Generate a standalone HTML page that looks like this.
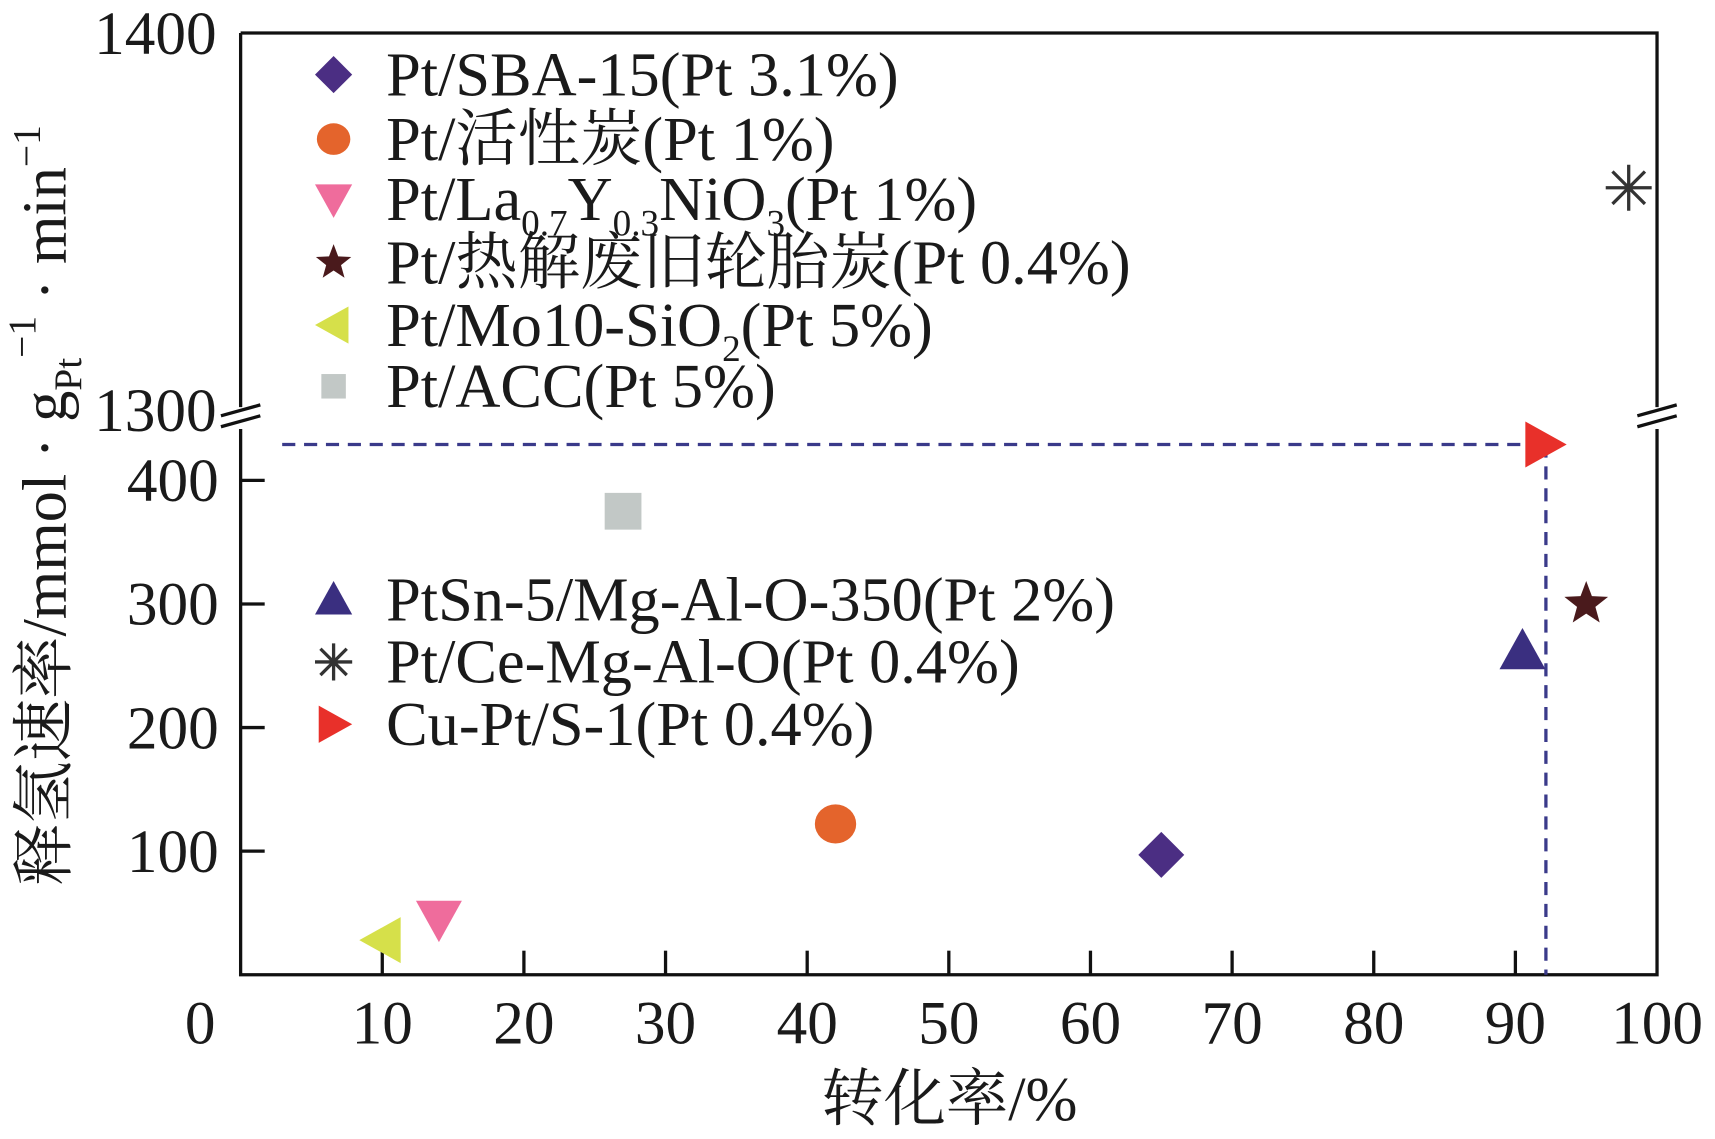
<!DOCTYPE html>
<html><head><meta charset="utf-8"><style>
html,body{margin:0;padding:0;background:#fff}
svg{display:block}
text{font-family:"Liberation Serif","Noto Serif CJK SC",serif;fill:#1a1a1a}
</style></head><body>
<svg id="chart" width="1715" height="1139" viewBox="0 0 1568 1041" xmlns="http://www.w3.org/2000/svg">
<g id="axes"></g>
<g id="marks"></g>
<g id="legend"></g>
<text x="868" y="1024" font-size="57" text-anchor="middle">转化率/%</text>
<text transform="translate(60,462) rotate(-90)" font-size="57" text-anchor="middle">释氢速率/mmol · g<tspan font-size="36" dy="14">Pt</tspan><tspan font-size="36" dy="-42">−1</tspan><tspan dy="28"> · min</tspan><tspan font-size="36" dy="-24">−1</tspan></text>
</svg>
<script>
const xTicks=[0,10,20,30,40,50,60,70,80,90,100];
const yLowTicks=[100,200,300,400];
const yHighTicks=[1300,1400];
const names=["Pt/SBA-15(Pt 3.1%)","Pt/活性炭(Pt 1%)","Pt/La0.7Y0.3NiO3(Pt 1%)","Pt/热解废旧轮胎炭(Pt 0.4%)","Pt/Mo10-SiO2(Pt 5%)","Pt/ACC(Pt 5%)","PtSn-5/Mg-Al-O-350(Pt 2%)","Pt/Ce-Mg-Al-O(Pt 0.4%)","Cu-Pt/S-1(Pt 0.4%)"];
const conversion=[65,42,14,95,10,27,90.5,98,92];
const rate=[97,122,45,300,28,375,262,1359,429];
const shapes=["diamond","circle","down","star","left","square","up","asterisk","right"];
const colors=["#4b2e83","#e4642c","#ef6c9c","#4a1a1c","#d6e04a","#c2c8c6","#3a2f80","#333333","#e8302a"];
const NS="http://www.w3.org/2000/svg";
const L=220,R=1515,B=891,T=30,BRK=378;
function xs(v){return L+(R-L)*v/100;}
function ys(v){return v<=1000? B-v*1.13 : 375-(v-1300)*3.45;}
function mk(tag,attrs,parent){const e=document.createElementNS(NS,tag);for(const k in attrs)e.setAttribute(k,attrs[k]);parent.appendChild(e);return e;}
const ax=document.getElementById('axes');
let f=mk('path',{d:`M${L} ${T}H${R}V${BRK-6}M${R} ${BRK+14}V${B}H${L}V${BRK+14}M${L} ${BRK-6}V${T}`,fill:'none',stroke:'#111','stroke-width':3},ax);

[L,R].forEach(x=>{const g=mk('path',{d:`M${x-18} ${BRK+2}L${x+18} ${BRK-8}M${x-18} ${BRK+12}L${x+18} ${BRK+2}`,stroke:'#111','stroke-width':3,fill:'none'},ax);
});
xTicks.forEach(v=>{const x=xs(v);
if(v>0&&v<100){const t=mk('line',{x1:x,x2:x,y1:B,y2:B-22,stroke:'#111','stroke-width':3},ax);}
const tx=mk('text',{x:v===0?183:x,y:954,'font-size':56,'text-anchor':'middle'},ax);tx.textContent=v;
});
yLowTicks.forEach(v=>{const y=ys(v);
const t=mk('line',{x1:L,x2:L+22,y1:y,y2:y,stroke:'#111','stroke-width':3},ax);
const tx=mk('text',{x:200,y:y+19,'font-size':56,'text-anchor':'end'},ax);tx.textContent=v;
});
yHighTicks.forEach(v=>{const tx=mk('text',{x:198,y:ys(v)+19,'font-size':56,'text-anchor':'end'},ax);tx.textContent=v;
});
const gx=xs(conversion[8])+2,gy=ys(rate[8]);
const dl=mk('path',{d:`M258 ${gy}H${gx-10}M${gx} ${gy}V${B}`,stroke:'#3a3a8a','stroke-width':3,'stroke-dasharray':'12 8',fill:'none'},ax);

function shape(s,x,y,c,r,parent){
let e;
if(s==='diamond')e=mk('path',{d:`M${x} ${y-r}L${x+r} ${y}L${x} ${y+r}L${x-r} ${y}Z`,fill:c},parent);
else if(s==='circle')e=mk('ellipse',{cx:x,cy:y,rx:r*0.9,ry:r*0.85,fill:c},parent);
else if(s==='square')e=mk('rect',{x:x-r*0.8,y:y-r*0.8,width:r*1.6,height:r*1.6,fill:c},parent);
else if(s==='down')e=mk('path',{d:`M${x-r} ${y-r*0.8}H${x+r}L${x} ${y+r}Z`,fill:c},parent);
else if(s==='up')e=mk('path',{d:`M${x-r} ${y+r*0.8}H${x+r}L${x} ${y-r}Z`,fill:c},parent);
else if(s==='left')e=mk('path',{d:`M${x+r*0.8} ${y-r}V${y+r}L${x-r} ${y}Z`,fill:c},parent);
else if(s==='right')e=mk('path',{d:`M${x-r*0.8} ${y-r}V${y+r}L${x+r} ${y}Z`,fill:c},parent);
else if(s==='star'){let d='';for(let i=0;i<10;i++){const a=-Math.PI/2+i*Math.PI/5,rr=i%2?r*0.42:r;d+=(i?'L':'M')+(x+rr*Math.cos(a))+' '+(y+rr*Math.sin(a));}e=mk('path',{d:d+'Z',fill:c},parent);}
else {let d='';for(let i=0;i<4;i++){const a=i*Math.PI/4;d+=`M${x-r*Math.cos(a)} ${y-r*Math.sin(a)}L${x+r*Math.cos(a)} ${y+r*Math.sin(a)}`;}e=mk('path',{d:d,stroke:c,'stroke-width':3,fill:'none'},parent);}
return e;}
const mg=document.getElementById('marks');
conversion.forEach((v,i)=>{const e=shape(shapes[i],xs(v),ys(rate[i]),colors[i],21,mg);
});
const lg=document.getElementById('legend');
const rowsY=[68,127,182,240,297,353,548,605,662];
const labelsHTML=["Pt/SBA-15(Pt 3.1%)","Pt/活性炭(Pt 1%)",'Pt/La<tspan font-size="34" dy="14">0.7</tspan><tspan dy="-14">Y</tspan><tspan font-size="34" dy="14">0.3</tspan><tspan dy="-14">NiO</tspan><tspan font-size="34" dy="14">3</tspan><tspan dy="-14">(Pt 1%)</tspan>',"Pt/热解废旧轮胎炭(Pt 0.4%)",'Pt/Mo10-SiO<tspan font-size="34" dy="14">2</tspan><tspan dy="-14">(Pt 5%)</tspan>',"Pt/ACC(Pt 5%)","PtSn-5/Mg-Al-O-350(Pt 2%)","Pt/Ce-Mg-Al-O(Pt 0.4%)","Cu-Pt/S-1(Pt 0.4%)"];
names.forEach((n,i)=>{const y=rowsY[i];
const m=shape(shapes[i],305,y,colors[i],shapes[i]==='square'?14:17,lg);

const t=mk('text',{x:353,y:y+19,'font-size':57},lg);t.innerHTML=labelsHTML[i];
});
</script>
</body></html>
